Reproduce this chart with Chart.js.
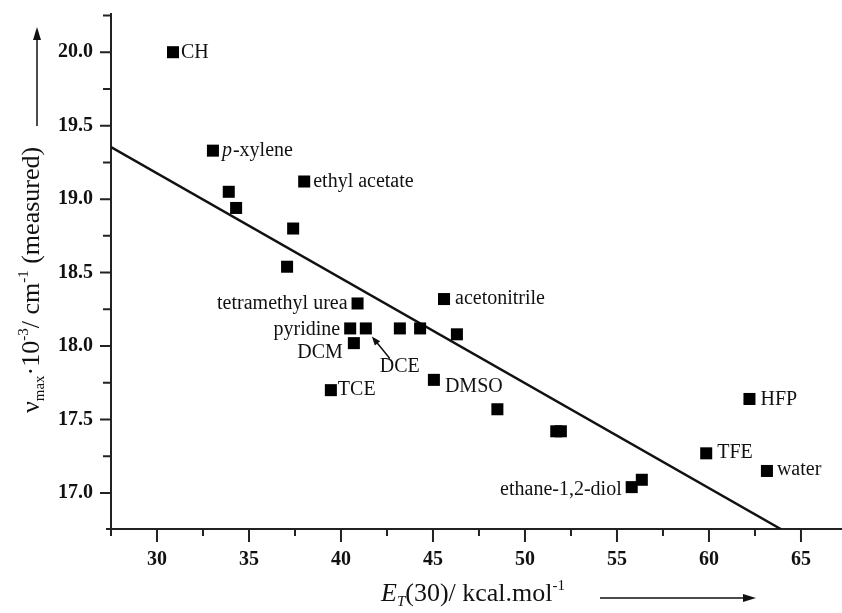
<!DOCTYPE html>
<html>
<head>
<meta charset="utf-8">
<script src="https://cdn.jsdelivr.net/npm/chart.js@4.4.0/dist/chart.umd.min.js"></script>
<style>
  html, body { margin: 0; padding: 0; background: #fff; }
</style>
</head>
<body>
<canvas id="chart" width="842" height="613"></canvas>
<script>
// solvent points: ET(30) vs nu_max (10^3 cm^-1)
const solventNames = ['CH', 'p-xylene', '', '', 'ethyl acetate', '', '', 'tetramethyl urea', 'pyridine', 'DCE',
  'DCM', 'TCE', '', '', 'acetonitrile', '', 'DMSO', '', '', '', 'ethane-1,2-diol', '', 'TFE', 'HFP', 'water'];
const etValues = [30.87, 33.04, 33.9, 34.3, 38.0, 37.4, 37.07, 40.9, 40.5, 41.35,
  40.7, 39.45, 43.2, 44.3, 45.6, 46.3, 45.05, 48.5, 51.7, 51.95, 55.8, 56.35, 59.85, 62.2, 63.15];
const nuValues = [20.00, 19.33, 19.05, 18.94, 19.12, 18.80, 18.54, 18.29, 18.12, 18.12,
  18.02, 17.70, 18.12, 18.12, 18.32, 18.08, 17.77, 17.57, 17.42, 17.42, 17.04, 17.09, 17.27, 17.64, 17.15];

// linear fit line
const fitX = [27.5, 63.9];
const fitY = [19.354, 16.755];

const xTickLabels = [30, 35, 40, 45, 50, 55, 60, 65];
const yTickLabels = [17.0, 17.5, 18.0, 18.5, 19.0, 19.5, 20.0];

// where each label sits relative to its point (px)
const labelPlace = {
  'CH': { dx: 8, dy: 1 },
  'p-xylene': { dx: 9, dy: 0 },
  'ethyl acetate': { dx: 9, dy: 0 },
  'tetramethyl urea': { dx: -10, dy: 0, right: true },
  'pyridine': { dx: -10, dy: 1, right: true },
  'DCM': { dx: -11, dy: 10, right: true },
  'DCE': { dx: 14, dy: 38 },
  'TCE': { dx: 7, dy: 0 },
  'acetonitrile': { dx: 11, dy: 0 },
  'DMSO': { dx: 11, dy: 7 },
  'ethane-1,2-diol': { dx: -10, dy: 3, right: true },
  'TFE': { dx: 11, dy: -1 },
  'HFP': { dx: 11, dy: 1 },
  'water': { dx: 10, dy: -1 }
};

const SERIF = '"Liberation Serif", "Times New Roman", serif';
const INK = '#111';

function isStep(v, step) {
  return Math.abs(v / step - Math.round(v / step)) < 1e-6;
}

function arrow(ctx, x1, y1, x2, y2, head, half) {
  const ang = Math.atan2(y2 - y1, x2 - x1);
  ctx.beginPath();
  ctx.moveTo(x1, y1);
  ctx.lineTo(x2 - Math.cos(ang) * head * 0.8, y2 - Math.sin(ang) * head * 0.8);
  ctx.stroke();
  ctx.beginPath();
  ctx.moveTo(x2, y2);
  ctx.lineTo(x2 - Math.cos(ang) * head - Math.sin(ang) * half, y2 - Math.sin(ang) * head + Math.cos(ang) * half);
  ctx.lineTo(x2 - Math.cos(ang) * head + Math.sin(ang) * half, y2 - Math.sin(ang) * head - Math.cos(ang) * half);
  ctx.closePath();
  ctx.fill();
}

// draws pieces of text one after another: [text, font, baseline shift]
function richText(ctx, parts, x, y) {
  ctx.textAlign = 'left';
  ctx.textBaseline = 'alphabetic';
  parts.forEach(([t, font, dy]) => {
    ctx.font = font;
    ctx.fillText(t, x, y + dy);
    x += ctx.measureText(t).width;
  });
}

const tickMarks = {
  id: 'tickMarks',
  afterDraw(chart) {
    const { ctx, chartArea: a, scales: { x, y } } = chart;
    ctx.save();
    ctx.strokeStyle = '#222';
    ctx.lineWidth = 2;
    ctx.beginPath();
    x.ticks.forEach(t => {
      const px = x.getPixelForValue(t.value);
      ctx.moveTo(px, a.bottom);
      ctx.lineTo(px, a.bottom + (isStep(t.value, 5) ? 13 : 7));
    });
    y.ticks.forEach(t => {
      const py = y.getPixelForValue(t.value);
      ctx.moveTo(a.left - (isStep(t.value, 0.5) ? 11 : 8), py);
      ctx.lineTo(a.left, py);
    });
    ctx.moveTo(a.left - 5, a.bottom);
    ctx.lineTo(a.left, a.bottom);
    ctx.stroke();
    ctx.restore();
  }
};

const pointLabels = {
  id: 'pointLabels',
  afterDraw(chart) {
    const { ctx, scales: { x, y } } = chart;
    ctx.save();
    ctx.fillStyle = INK;
    ctx.strokeStyle = INK;
    ctx.textBaseline = 'middle';
    solventNames.forEach((name, i) => {
      if (!name) return;
      const p = labelPlace[name];
      const px = x.getPixelForValue(etValues[i]) + p.dx;
      const py = y.getPixelForValue(nuValues[i]) + p.dy;
      ctx.textAlign = p.right ? 'right' : 'left';
      if (name.startsWith('p-')) {
        ctx.font = 'italic 20px ' + SERIF;
        ctx.fillText('p', px, py);
        const w = ctx.measureText('p').width;
        ctx.font = '20px ' + SERIF;
        ctx.fillText(name.slice(1), px + w + 1, py);
      } else {
        ctx.font = '20px ' + SERIF;
        ctx.fillText(name, px, py);
      }
      if (name === 'DCE') {
        const ox = x.getPixelForValue(etValues[i]);
        const oy = y.getPixelForValue(nuValues[i]);
        ctx.lineWidth = 1.5;
        arrow(ctx, ox + 24, oy + 30, ox + 6, oy + 8, 9, 3.5);
      }
    });
    ctx.restore();
  }
};

const axisTitles = {
  id: 'axisTitles',
  afterDraw(chart) {
    const ctx = chart.ctx;
    const big = '26px ' + SERIF;
    const small = '15px ' + SERIF;
    ctx.save();
    ctx.fillStyle = INK;
    ctx.strokeStyle = INK;
    ctx.lineWidth = 1.5;

    // x title
    richText(ctx, [
      ['E', 'italic ' + big, 0],
      ['T', 'italic ' + small, 5],
      ['(30)/ kcal.mol', big, 0],
      ['-1', small, -11]
    ], 381, 601);
    arrow(ctx, 600, 598, 756, 598, 13, 4);

    // y title, rotated
    ctx.save();
    ctx.translate(39, 413);
    ctx.rotate(-Math.PI / 2);
    richText(ctx, [
      ['\u03BD', big, 0],
      ['max', small, 5],
      ['\u00B710', big, 0],
      ['-3', small, -11],
      ['/ cm', big, 0],
      ['-1', small, -11],
      [' (measured)', big, 0]
    ], 0, 0);
    ctx.restore();
    arrow(ctx, 37, 126, 37, 27, 13, 4);
    ctx.restore();
  }
};

new Chart(document.getElementById('chart'), {
  type: 'scatter',
  data: {
    datasets: [
      {
        label: 'solvents',
        data: etValues.map((v, i) => ({ x: v, y: nuValues[i] })),
        pointStyle: 'rect',
        pointRadius: 8.5,
        backgroundColor: '#000',
        borderColor: '#000',
        borderWidth: 0,
        order: 1
      },
      {
        type: 'line',
        label: 'fit',
        data: fitX.map((v, i) => ({ x: v, y: fitY[i] })),
        borderColor: INK,
        borderWidth: 2.5,
        pointRadius: 0,
        fill: false,
        order: 2
      }
    ]
  },
  options: {
    responsive: false,
    animation: false,
    events: [],
    layout: { autoPadding: false, padding: { top: 14, left: 0, right: 0, bottom: 0 } },
    plugins: { legend: { display: false }, tooltip: { enabled: false } },
    scales: {
      x: {
        type: 'linear',
        min: 27.5,
        max: 67.23,
        afterBuildTicks: s => { s.ticks = s.ticks.filter(t => isStep(t.value, 2.5)); },
        afterFit: s => { s.height = 84; s.paddingLeft = 0; s.paddingRight = 0; },
        ticks: {
          stepSize: 2.5,
          includeBounds: false,
          autoSkip: false,
          maxRotation: 0,
          padding: 19,
          color: INK,
          font: { family: SERIF, size: 20, weight: 'bold' },
          callback: v => xTickLabels.some(l => Math.abs(l - v) < 1e-6) ? String(Math.round(v)) : ''
        },
        grid: { display: true, drawOnChartArea: false, drawTicks: false },
        border: { display: true, color: '#222', width: 2 }
      },
      y: {
        type: 'linear',
        min: 16.755,
        max: 20.26,
        afterBuildTicks: s => { s.ticks = s.ticks.filter(t => isStep(t.value, 0.25)); },
        afterFit: s => { s.width = 111; s.paddingTop = 0; s.paddingBottom = 0; },
        ticks: {
          stepSize: 0.25,
          includeBounds: false,
          autoSkip: false,
          padding: 18,
          color: INK,
          font: { family: SERIF, size: 20, weight: 'bold' },
          callback: v => yTickLabels.some(l => Math.abs(l - v) < 1e-6) ? Number(v).toFixed(1) : ''
        },
        grid: { display: true, drawOnChartArea: false, drawTicks: false },
        border: { display: true, color: '#222', width: 2 }
      }
    }
  },
  plugins: [tickMarks, pointLabels, axisTitles]
});
</script>
</body>
</html>
